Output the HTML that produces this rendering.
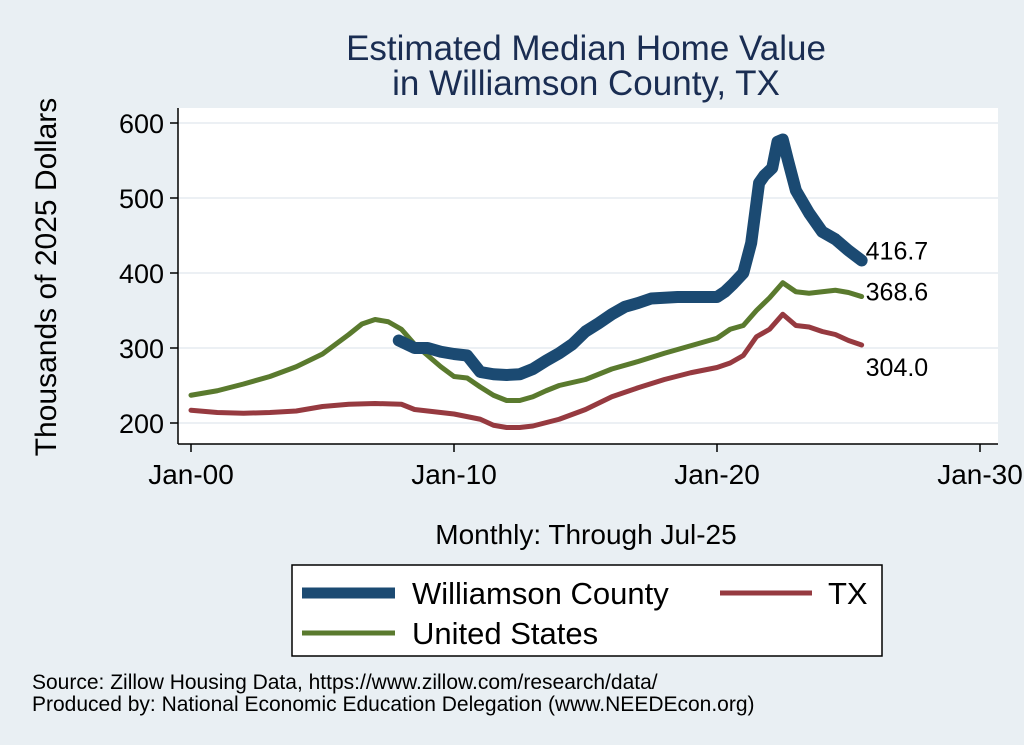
<!DOCTYPE html>
<html><head><meta charset="utf-8"><style>
body{margin:0;background:#e9eff3;font-family:"Liberation Sans",sans-serif}
svg{display:block}
</style></head><body>
<svg width="1024" height="745" id="c">
<rect x="0" y="0" width="1024" height="745" fill="#e9eff3"/>
<rect x="178" y="108" width="820" height="336" fill="#fff"/>
<text x="586" y="60" font-size="35" fill="#1a2d52" text-anchor="middle">Estimated Median Home Value</text>
<text x="586" y="95" font-size="35" fill="#1a2d52" text-anchor="middle">in Williamson County, TX</text>
<text transform="translate(56,277) rotate(-90)" font-size="30" text-anchor="middle">Thousands of 2025 Dollars</text>
<text x="586" y="544" font-size="28" text-anchor="middle">Monthly: Through Jul-25</text>
<g id="grid"></g><g id="axes"></g><g id="lines"></g>
<rect x="292" y="565" width="590" height="91" fill="#fff" stroke="#000" stroke-width="1.5"/>
<g><line x1="302" y1="593" x2="395" y2="593" stroke="#1b4a72" stroke-width="11"/><text x="412" y="604" font-size="31">Williamson County</text></g>
<g><line x1="720" y1="593" x2="812" y2="593" stroke="#963a40" stroke-width="5"/><text x="828" y="604" font-size="31">TX</text></g>
<g><line x1="302" y1="633" x2="395" y2="633" stroke="#5a7a2e" stroke-width="5"/><text x="412" y="644" font-size="31">United States</text></g>
<text x="32" y="689" font-size="21">Source: Zillow Housing Data, https://www.zillow.com/research/data/</text>
<text x="32" y="711" font-size="21">Produced by: National Economic Education Delegation (www.NEEDEcon.org)</text>
</svg>
<script>
const yTicks=[200,300,400,500,600];
const xTickYears=[2000,2010,2020,2030];
const xTickLabels=["Jan-00","Jan-10","Jan-20","Jan-30"];
const wcDates=[2007.9,2008.5,2009,2009.5,2010,2010.5,2011,2011.5,2012,2012.5,2013,2013.5,2014,2014.5,2015,2015.5,2016,2016.5,2017,2017.5,2018,2018.5,2019,2019.5,2020,2020.3,2020.6,2021,2021.3,2021.6,2021.8,2022.1,2022.3,2022.5,2022.7,2023,2023.5,2024,2024.5,2025,2025.5];
const wcValues=[310,300,300,295,292,290,268,265,264,265,272,283,293,305,322,333,345,355,360,366,367,368,368,368,368,375,385,400,440,520,530,540,575,578,550,510,480,455,445,430,416.7];
const usDates=[2000,2001,2002,2003,2004,2005,2006,2006.5,2007,2007.5,2008,2008.5,2009,2009.5,2010,2010.5,2011,2011.5,2012,2012.5,2013,2013.5,2014,2015,2016,2017,2018,2019,2020,2020.5,2021,2021.5,2022,2022.5,2023,2023.5,2024,2024.5,2025,2025.5];
const usValues=[237,243,252,262,275,292,318,332,338,335,325,305,290,275,262,260,248,237,230,230,235,243,250,258,272,282,293,303,313,325,330,350,367,387,375,373,375,377,374,368.6];
const txDates=[2000,2001,2002,2003,2004,2005,2006,2007,2008,2008.5,2009,2010,2011,2011.5,2012,2012.5,2013,2014,2015,2016,2017,2018,2019,2020,2020.5,2021,2021.5,2022,2022.5,2023,2023.5,2024,2024.5,2025,2025.5];
const txValues=[217,214,213,214,216,222,225,226,225,218,216,212,205,197,194,194,196,205,218,235,247,258,267,274,280,290,315,325,345,330,328,322,318,310,304];
const NS="http://www.w3.org/2000/svg";
const xS=t=>191+(t-2000)*26.3;
const yS=v=>423-(v-200)*0.75;
function mk(tag,attrs,parent){const e=document.createElementNS(NS,tag);for(const k in attrs)e.setAttribute(k,attrs[k]);document.getElementById(parent).appendChild(e);return e;}
yTicks.forEach(v=>{
 const g=mk('line',{x1:178,x2:998,y1:yS(v),y2:yS(v),stroke:'#e6ecf0','stroke-width':1.5},'grid');
 
 
 const t=mk('line',{x1:170,x2:178,y1:yS(v),y2:yS(v),stroke:'#000','stroke-width':1.5},'axes');
 
 
 const l=mk('text',{x:164,y:yS(v)+10,'font-size':27,'text-anchor':'end'},'axes');l.textContent=v;
 
 
});
xTickYears.forEach((y,i)=>{
 const t=mk('line',{x1:xS(y),x2:xS(y),y1:444,y2:452,stroke:'#000','stroke-width':1.5},'axes');
 
 
 const l=mk('text',{x:xS(y),y:484,'font-size':28,'text-anchor':'middle'},'axes');l.textContent=xTickLabels[i];
 
 
});
const ya=mk('line',{x1:178,x2:178,y1:108,y2:444,stroke:'#000','stroke-width':1.5},'axes');


const xa=mk('line',{x1:178,x2:998,y1:444,y2:444,stroke:'#000','stroke-width':1.5},'axes');


function series(d,v,col,w,name){
 const p=mk('polyline',{points:d.map((t,i)=>xS(t)+','+yS(v[i])).join(' '),fill:'none',stroke:col,'stroke-width':w,'stroke-linejoin':'round','stroke-linecap':'round'},'lines');
 
 
 return v[v.length-1];
}
const lTx=series(txDates,txValues,'#963a40',5,'tx-line');
const lUs=series(usDates,usValues,'#5a7a2e',5,'us-line');
const lWc=series(wcDates,wcValues,'#1b4a72',12,'williamson-line');
const ends=[[wcDates,lWc,-10],[usDates,lUs,-5],[txDates,lTx,+22]];
ends.forEach(([d,v,off])=>{
 const t=mk('text',{x:xS(d[d.length-1])+4,y:yS(v)+off+9,'font-size':25},'lines');
 t.textContent=v.toFixed(1);
 
 
});
</script>
</body></html>
